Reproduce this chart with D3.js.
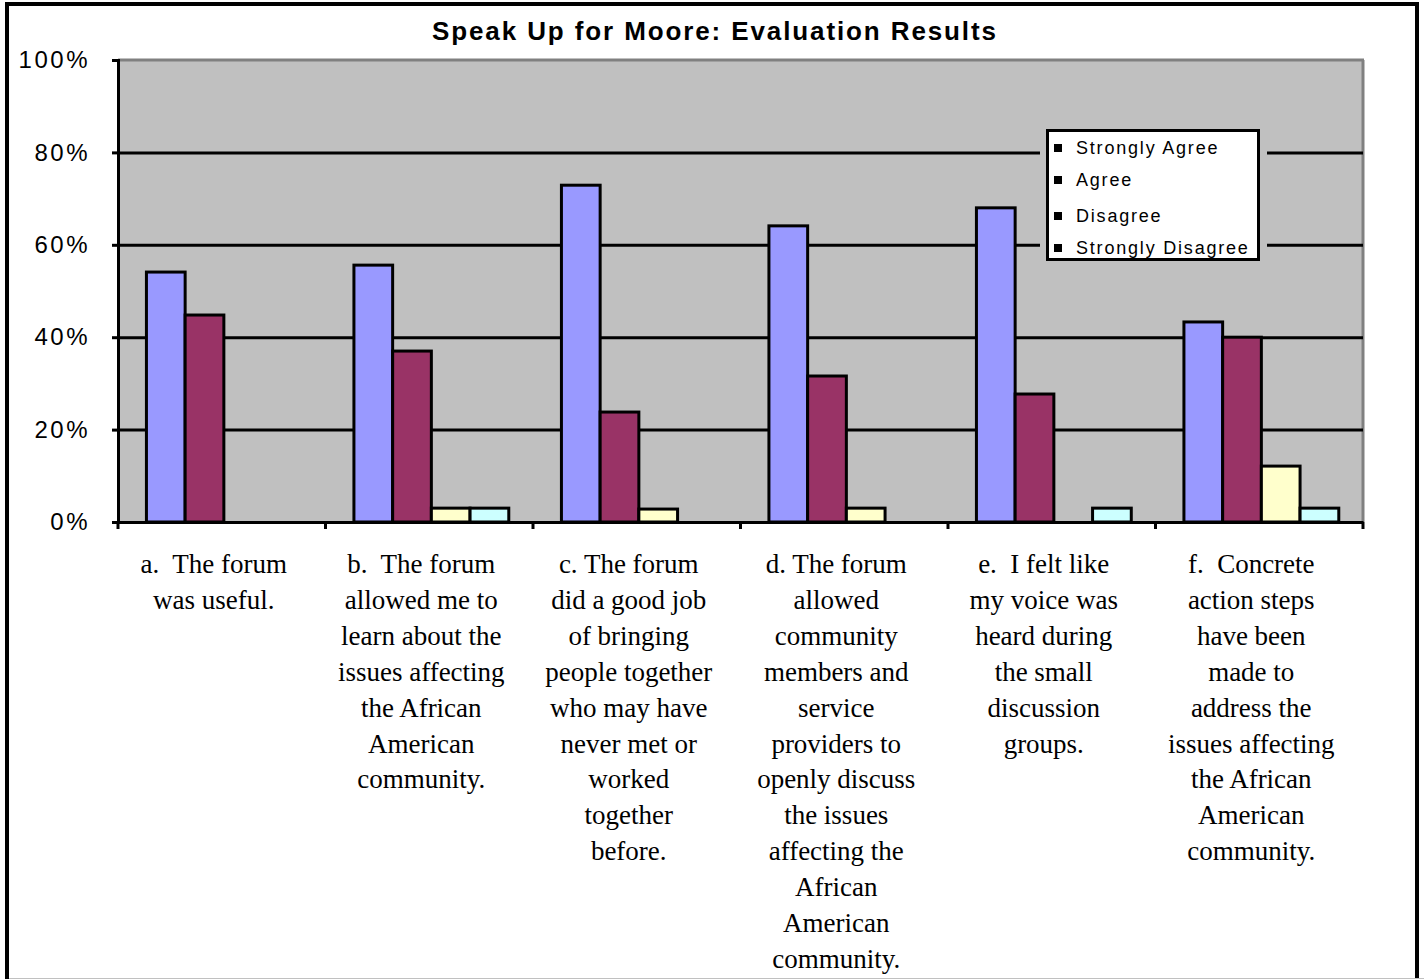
<!DOCTYPE html>
<html>
<head>
<meta charset="utf-8">
<script src="https://cdn.jsdelivr.net/npm/d3@7"></script>
<style>
  body { margin: 0; background: #fff; }
  svg { display: block; }
</style>
</head>
<body>
<div id="chart"></div>
<script>
// Chart values
const categories = ["a", "b", "c", "d", "e", "f"];
const categoryLabels = [
    ["a.  The forum", "was useful."],
    ["b.  The forum", "allowed me to", "learn about the", "issues affecting", "the African", "American", "community."],
    ["c. The forum", "did a good job", "of bringing", "people together", "who may have", "never met or", "worked", "together", "before."],
    ["d. The forum", "allowed", "community", "members and", "service", "providers to", "openly discuss", "the issues", "affecting the", "African", "American", "community."],
    ["e.  I felt like", "my voice was", "heard during", "the small", "discussion", "groups."],
    ["f.  Concrete", "action steps", "have been", "made to", "address the", "issues affecting", "the African", "American", "community."]
];
const seriesNames = ["Strongly Agree", "Agree", "Disagree", "Strongly Disagree"];
const stronglyAgree = [54.1, 55.6, 72.9, 64.1, 68.0, 43.3];
const agree = [44.8, 37.0, 23.8, 31.6, 27.7, 40.0];
const disagree = [0, 3.0, 2.8, 3.0, 0, 12.1];
const stronglyDisagree = [0, 3.0, 0, 0, 3.0, 3.0];
const yTicks = [0, 20, 40, 60, 80, 100];
const seriesColors = ["#9999FF", "#993366", "#FFFFCC", "#CCFFFF"];

const allSeries = [stronglyAgree, agree, disagree, stronglyDisagree];

const width = 1424;
const height = 979;

const svg = d3.select("#chart")
    .append("svg")
    .attr("width", width)
    .attr("height", height);

// Outer frame
svg.append("rect")
    .attr("x", 7).attr("y", 4)
    .attr("width", 1410).attr("height", 1000)
    .attr("fill", "#fff")
    .attr("stroke", "#000")
    .attr("stroke-width", 4);
svg.append("line")
    .attr("x1", 9).attr("x2", 1424)
    .attr("y1", 978.5).attr("y2", 978.5)
    .attr("stroke", "#c0c0c0")
    .attr("stroke-width", 1);

// Plot area
const plot = { left: 118, top: 60, right: 1363, bottom: 522 };

const x0 = d3.scaleBand()
    .domain(categories)
    .range([plot.left, plot.right])
    .padding(0);

const x1 = d3.scaleBand()
    .domain(d3.range(seriesNames.length))
    .range([0, x0.bandwidth()])
    .paddingInner(0)
    .paddingOuter(0.68)
    .align(0.54);

const y = d3.scaleLinear()
    .domain([0, 100])
    .range([plot.bottom, plot.top]);

// Gray background
svg.append("rect")
    .attr("x", plot.left).attr("y", plot.top)
    .attr("width", plot.right - plot.left)
    .attr("height", plot.bottom - plot.top)
    .attr("fill", "#C0C0C0");

// Top and right borders (gray)
svg.append("line")
    .attr("x1", plot.left).attr("x2", plot.right + 1)
    .attr("y1", plot.top).attr("y2", plot.top)
    .attr("stroke", "#808080").attr("stroke-width", 3);
svg.append("line")
    .attr("x1", plot.right).attr("x2", plot.right)
    .attr("y1", plot.top).attr("y2", plot.bottom)
    .attr("stroke", "#808080").attr("stroke-width", 3);

// Gridlines
const grid = svg.append("g")
    .attr("transform", `translate(${plot.left},0)`)
    .call(d3.axisLeft(y).tickValues(yTicks.filter(t => t > 0 && t < 100))
        .tickSize(-(plot.right - plot.left)).tickFormat(""));
grid.select(".domain").remove();
grid.selectAll("line").attr("stroke", "#000").attr("stroke-width", 3);

// Bars
const groups = svg.selectAll("g.cat")
    .data(categories)
    .enter().append("g")
    .attr("class", "cat")
    .attr("transform", d => `translate(${x0(d)},0)`);

groups.selectAll("rect")
    .data((d, i) => allSeries.map((s, k) => ({ k: k, v: s[i] })).filter(e => e.v > 0))
    .enter().append("rect")
    .attr("x", d => x1(d.k))
    .attr("y", d => y(d.v))
    .attr("width", x1.bandwidth())
    .attr("height", d => y(0) - y(d.v))
    .attr("fill", d => seriesColors[d.k])
    .attr("stroke", "#000")
    .attr("stroke-width", 3);

// Y axis
const yAxis = svg.append("g")
    .attr("transform", `translate(${plot.left},0)`)
    .call(d3.axisLeft(y).tickValues(yTicks).tickSize(6).tickPadding(22)
        .tickFormat(d => d + "%"));
yAxis.select(".domain").attr("stroke", "#000").attr("stroke-width", 3);
yAxis.selectAll(".tick line").attr("stroke", "#000").attr("stroke-width", 3);
yAxis.selectAll(".tick text")
    .attr("fill", "#000")
    .style("font-family", "Arial, 'Liberation Sans', sans-serif")
    .style("font-size", "24px")
    .style("letter-spacing", "2.5px");

// X axis
const xAxis = svg.append("g")
    .attr("transform", `translate(0,${plot.bottom})`)
    .call(d3.axisBottom(x0).tickSize(0).tickFormat(""));
xAxis.select(".domain").attr("stroke", "#000").attr("stroke-width", 3);
xAxis.selectAll(".tick").remove();
xAxis.selectAll("line.bound")
    .data(categories.map(c => x0(c)).concat([plot.right]))
    .enter().append("line")
    .attr("class", "bound")
    .attr("x1", d => d).attr("x2", d => d)
    .attr("y1", 0).attr("y2", 7)
    .attr("stroke", "#000").attr("stroke-width", 3);

// Category labels
svg.selectAll("text.catlabel")
    .data(categories)
    .enter().append("text")
    .attr("class", "catlabel")
    .attr("text-anchor", "middle")
    .style("font-family", "'Liberation Serif', 'Times New Roman', serif")
    .style("font-size", "27px")
    .style("white-space", "pre")
    .attr("fill", "#000")
    .each(function (d, i) {
        const cx = x0(d) + x0.bandwidth() / 2 - 8;
        d3.select(this).selectAll("tspan")
            .data(categoryLabels[i])
            .enter().append("tspan")
            .attr("x", cx)
            .attr("y", (t, j) => 573 + j * 35.9)
            .text(t => t);
    });

// Title
svg.append("text")
    .attr("x", 432)
    .attr("y", 40)
    .attr("textLength", 564)
    .attr("lengthAdjust", "spacing")
    .style("font-family", "Arial, 'Liberation Sans', sans-serif")
    .style("font-size", "26px")
    .style("font-weight", "bold")
    .text("Speak Up for Moore: Evaluation Results");

// Legend
const legend = svg.append("g");
legend.append("rect")
    .attr("x", 1040).attr("y", 124)
    .attr("width", 227).attr("height", 143)
    .attr("fill", "#C0C0C0");
legend.append("rect")
    .attr("x", 1047.5).attr("y", 130.5)
    .attr("width", 211).attr("height", 129)
    .attr("fill", "#fff")
    .attr("stroke", "#000")
    .attr("stroke-width", 3);
const legendY = [148, 180, 216, 248];
seriesNames.forEach((name, i) => {
    legend.append("rect")
        .attr("x", 1054).attr("y", legendY[i] - 4)
        .attr("width", 8).attr("height", 8)
        .attr("fill", "#000");
    legend.append("text")
        .attr("x", 1076).attr("y", legendY[i] + 6)
        .style("font-family", "Arial, 'Liberation Sans', sans-serif")
        .style("font-size", "18px")
        .style("letter-spacing", "1.8px")
        .text(name);
});
</script>
</body>
</html>
